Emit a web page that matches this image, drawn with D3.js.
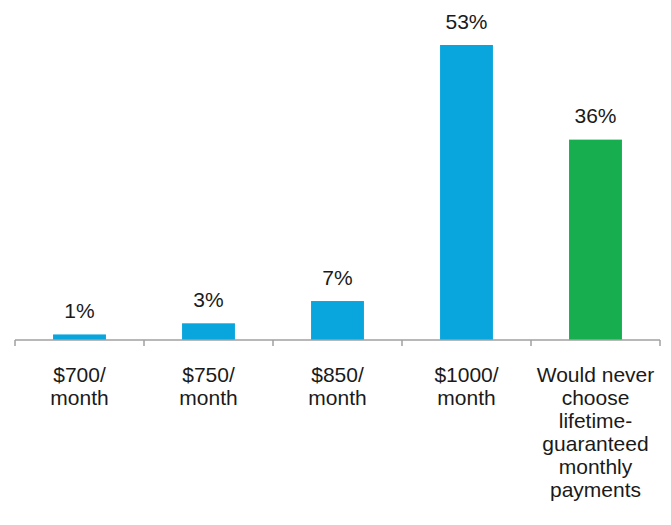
<!DOCTYPE html>
<html>
<head>
<meta charset="utf-8">
<script src="https://cdn.jsdelivr.net/npm/d3@7"></script>
<style>
  html, body { margin: 0; padding: 0; background: #fff; }
  svg { display: block; }
  text { font-family: "Liberation Sans", Arial, sans-serif; fill: #1a1a1a; }
</style>
</head>
<body>
<svg id="chart" width="671" height="525"></svg>
<script>
const categories = [
  ["$700/", "month"],
  ["$750/", "month"],
  ["$850/", "month"],
  ["$1000/", "month"],
  ["Would never", "choose", "lifetime-", "guaranteed", "monthly", "payments"]
];
const values = [1, 3, 7, 53, 36];
const valueLabels = ["1%", "3%", "7%", "53%", "36%"];
const barColors = ["#09A5DD", "#09A5DD", "#09A5DD", "#09A5DD", "#16AE4F"];

const svg = d3.select("#chart");
const baseY = 340;

const x = d3.scaleBand()
  .domain(d3.range(values.length))
  .range([15, 660])
  .paddingInner(0.59)
  .paddingOuter(0.295);

const y = d3.scaleLinear().domain([0, 53]).range([baseY, 45]);

// bars
svg.selectAll("rect.bar")
  .data(values)
  .join("rect")
  .attr("class", "bar")
  .attr("x", (d, i) => x(i))
  .attr("width", x.bandwidth())
  .attr("y", d => y(d))
  .attr("height", d => baseY - y(d))
  .attr("fill", (d, i) => barColors[i]);

// value labels
svg.selectAll("text.val")
  .data(values)
  .join("text")
  .attr("class", "val")
  .attr("x", (d, i) => x(i) + x.bandwidth() / 2)
  .attr("y", d => y(d) - 16.5)
  .attr("text-anchor", "middle")
  .attr("font-size", "21px")
  .text((d, i) => valueLabels[i]);

// axis
const axisG = svg.append("g").attr("stroke", "#A0A0A0").attr("stroke-width", 1.5);
const r = x.range();
axisG.append("line")
  .attr("x1", r[0]).attr("x2", r[1])
  .attr("y1", baseY).attr("y2", baseY);
const boundaries = d3.range(values.length + 1).map(i => r[0] + i * x.step());
axisG.selectAll("line.tick")
  .data(boundaries)
  .join("line")
  .attr("class", "tick")
  .attr("x1", d => d).attr("x2", d => d)
  .attr("y1", baseY).attr("y2", baseY + 6);

// category labels
const catG = svg.selectAll("text.cat")
  .data(categories)
  .join("text")
  .attr("class", "cat")
  .attr("text-anchor", "middle")
  .attr("font-size", "21px");
catG.each(function(lines, i) {
  const t = d3.select(this);
  lines.forEach((ln, j) => {
    t.append("tspan")
      .attr("x", x(i) + x.bandwidth() / 2)
      .attr("y", 381.5 + j * 23)
      .text(ln);
  });
});
</script>
</body>
</html>
